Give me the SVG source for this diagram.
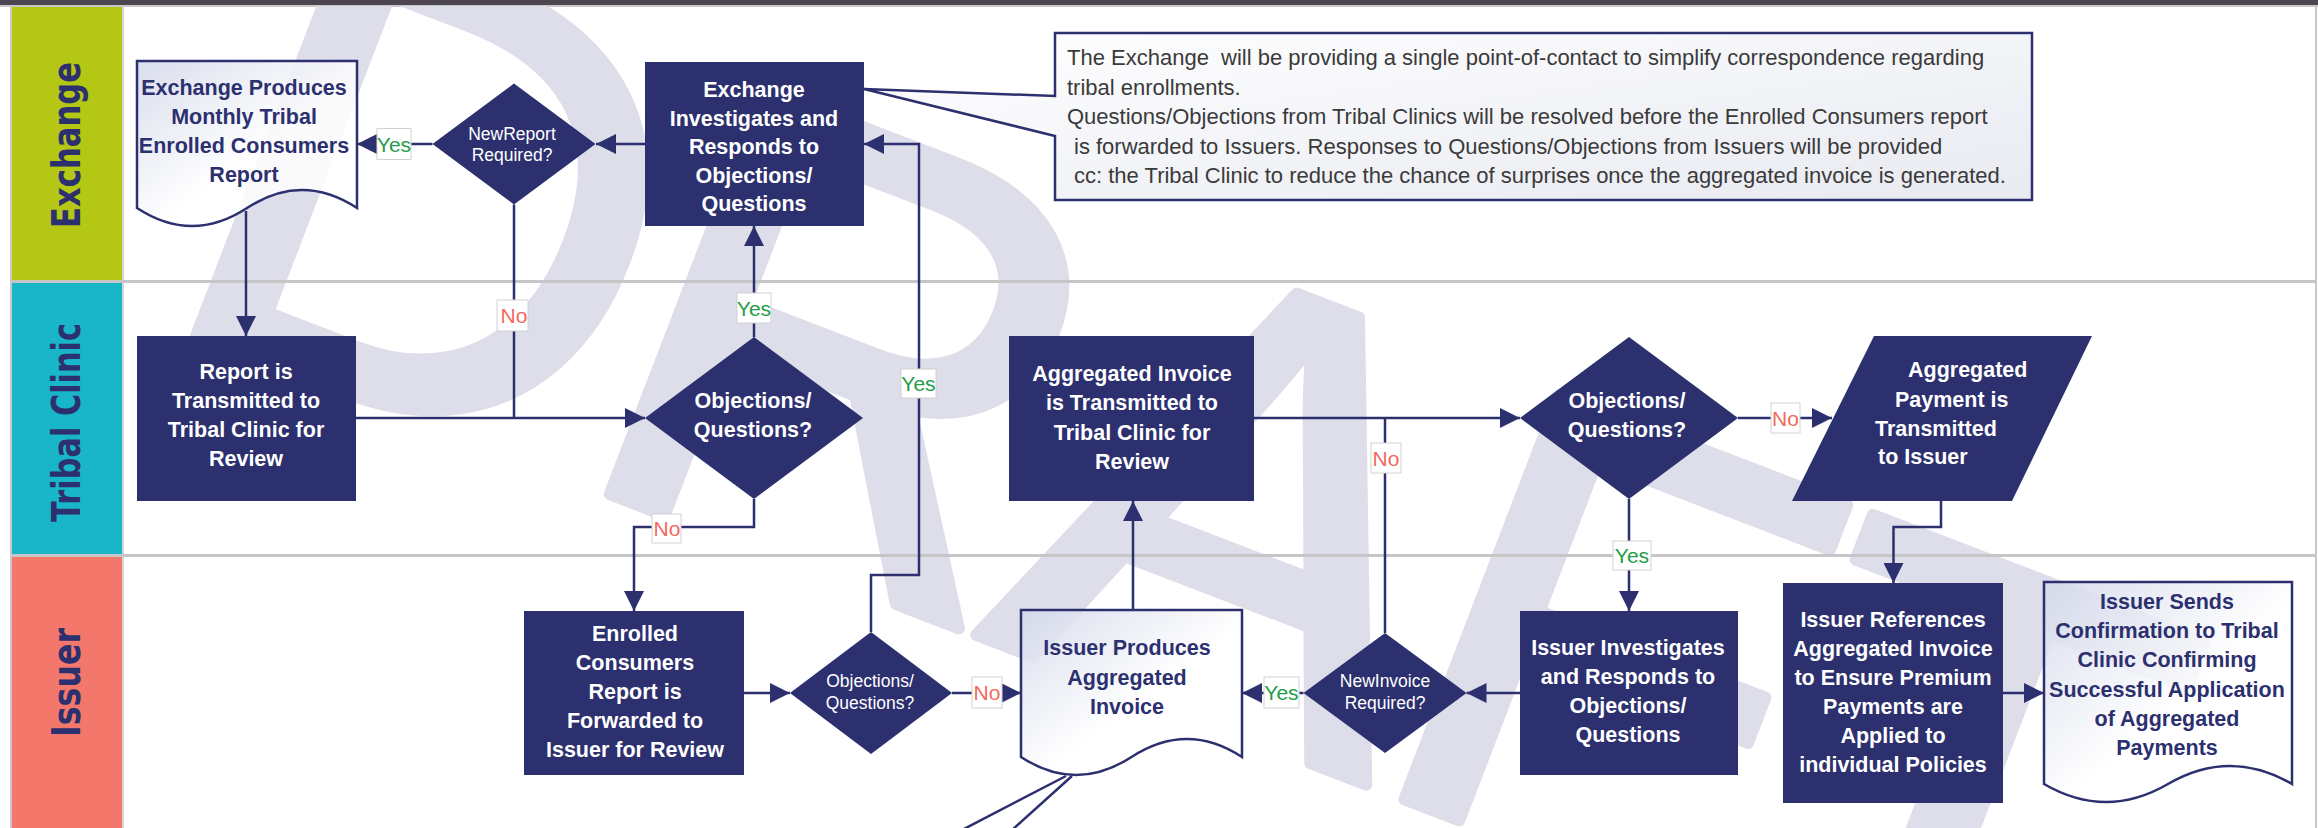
<svg xmlns="http://www.w3.org/2000/svg" width="2318" height="828" viewBox="0 0 2318 828">
<defs>
<style>
.node{fill:#2c306f}
.nt{font-family:"Liberation Sans",Arial,sans-serif;font-weight:bold;font-size:21.5px;fill:#ffffff;text-anchor:middle}
.dt{font-family:"Liberation Sans",Arial,sans-serif;font-weight:bold;font-size:21.5px;fill:#2c306f;text-anchor:middle}
.st{font-family:"Liberation Sans",Arial,sans-serif;font-size:17.5px;fill:#ffffff;text-anchor:middle}
.doc{fill:url(#docg);fill-opacity:0.85;stroke:#2c306f;stroke-width:2.5}
.conn{fill:none;stroke:#2c306f;stroke-width:2.5}
.arr{marker-end:url(#ah)}
.lb{fill:#ffffff;stroke:#d2d2d2;stroke-width:1}
.lt{font-family:"Liberation Sans",Arial,sans-serif;font-size:21px;text-anchor:middle}
.yes{fill:#1f9d48}
.no{fill:#f26a5d}
.lane{font-family:"DejaVu Sans",sans-serif;font-weight:bold;font-size:39px;fill:#2c306f;text-anchor:middle}
.ct{font-family:"Liberation Sans",Arial,sans-serif;font-size:22px;fill:#3a3a3a}
.sep{stroke:#c6c6c6;stroke-width:3}
</style>
<linearGradient id="docg" x1="0" y1="0" x2="1" y2="1"><stop offset="0" stop-color="#d3d8ea"/><stop offset="0.55" stop-color="#ffffff"/></linearGradient>
<linearGradient id="calg" x1="0" y1="0" x2="1" y2="1"><stop offset="0" stop-color="#ffffff"/><stop offset="1" stop-color="#e8eaf1"/></linearGradient>
<clipPath id="wmclip"><rect x="124" y="6" width="2192" height="822"/></clipPath>
<marker id="ah" markerUnits="userSpaceOnUse" markerWidth="20" markerHeight="20" refX="20" refY="10" orient="auto" viewBox="0 0 20 20"><path d="M0,0 L20,10 L0,20 z" fill="#2c306f"/></marker>
</defs>

<g id="background">
<rect x="0" y="0" width="2318" height="828" fill="#ffffff"/>
<rect x="0" y="0" width="2318" height="5" fill="#4b4650"/>
<rect x="0" y="5" width="2318" height="2" fill="#c8c8c8"/>
<rect x="12" y="7" width="110" height="273" fill="#b4c714"/>
<rect x="12" y="283" width="110" height="271" fill="#19b6c9"/>
<rect x="12" y="557" width="110" height="271" fill="#f4776b"/>
<line x1="11" y1="6" x2="11" y2="828" stroke="#c8c8c8" stroke-width="2"/>
<line x1="2316" y1="6" x2="2316" y2="828" stroke="#c8c8c8" stroke-width="2"/>
<line x1="123" y1="6" x2="123" y2="828" stroke="#d6d6d6" stroke-width="2"/>
</g>

<g id="watermark" clip-path="url(#wmclip)">
<text transform="translate(148,317) rotate(21)" font-family="Liberation Sans, Arial, sans-serif" font-size="630" letter-spacing="-12" fill="#dddee9" stroke="#dddee9" stroke-width="12" stroke-linejoin="round">DRAFT</text>
</g>

<g id="lanes">
<line class="sep" x1="12" y1="281.5" x2="2316" y2="281.5"/>
<line class="sep" x1="12" y1="555.5" x2="2316" y2="555.5"/>
<text class="lane" transform="translate(80,145) rotate(-90)" textLength="166" lengthAdjust="spacingAndGlyphs">Exchange</text>
<text class="lane" transform="translate(80,422.5) rotate(-90)" textLength="199" lengthAdjust="spacingAndGlyphs">Tribal Clinic</text>
<text class="lane" transform="translate(80,682.5) rotate(-90)" textLength="109" lengthAdjust="spacingAndGlyphs">Issuer</text>
</g>

<g id="connectors">
<path class="conn arr" d="M432.5,144 H357"/>
<path class="conn arr" d="M645,144 H596"/>
<path class="conn arr" d="M246,211 V336"/>
<path class="conn" d="M514,204.5 V418"/>
<path class="conn arr" d="M356,418 H645"/>
<path class="conn arr" d="M754,337 V226"/>
<path class="conn arr" d="M754,499 V527 H634 V611"/>
<path class="conn arr" d="M744,693 H790"/>
<path class="conn arr" d="M871,632 V575 H919 V144 H864"/>
<path class="conn arr" d="M952,693 H1021"/>
<path class="conn arr" d="M1133,610 V501"/>
<path class="conn arr" d="M1254,418 H1520"/>
<path class="conn" d="M1385,633 V418"/>
<path class="conn arr" d="M1303.5,693 H1242"/>
<path class="conn arr" d="M1520,693 H1466.5"/>
<path class="conn arr" d="M1629,499 V611"/>
<path class="conn arr" d="M1738,418 H1832"/>
<path class="conn arr" d="M1941,501 V527 H1893.5 V583"/>
<path class="conn arr" d="M2003,693 H2044"/>
<path class="conn" d="M1066,776 L962,830 M1072,776 L1012,830"/>
</g>

<g id="callout">
<path d="M1055,33 H2032 V200 H1055 V136 L864,89 L1055,96 Z" fill="url(#calg)" stroke="#2c306f" stroke-width="2.5" stroke-linejoin="miter"/>
<text class="ct" xml:space="preserve"><tspan x="1067" y="65">The Exchange  will be providing a single point-of-contact to simplify correspondence regarding</tspan><tspan x="1067" y="94.5">tribal enrollments.</tspan><tspan x="1067" y="124">Questions/Objections from Tribal Clinics will be resolved before the Enrolled Consumers report</tspan><tspan x="1074" y="153.5">is forwarded to Issuers. Responses to Questions/Objections from Issuers will be provided</tspan><tspan x="1074" y="183">cc: the Tribal Clinic to reduce the chance of surprises once the aggregated invoice is generated.</tspan></text>
</g>

<g id="exchange-produces-report">
<path class="doc" d="M137,61 H357 V208 Q302,172 247,208 T137,208 Z"/>
<text class="dt"><tspan x="244" y="95">Exchange Produces</tspan><tspan x="244" y="124">Monthly Tribal</tspan><tspan x="244" y="153">Enrolled Consumers</tspan><tspan x="244" y="182">Report</tspan></text>
</g>

<g id="new-report-required">
<polygon class="node" points="514,83.5 595.5,144 514,204.5 432.5,144"/>
<text class="st"><tspan x="512" y="139.5">NewReport</tspan><tspan x="512" y="160.5">Required?</tspan></text>
</g>

<g id="exchange-investigates">
<rect class="node" x="645" y="62" width="219" height="164"/>
<text class="nt"><tspan x="754" y="97">Exchange</tspan><tspan x="754" y="125.5">Investigates and</tspan><tspan x="754" y="154">Responds to</tspan><tspan x="754" y="182.5">Objections/</tspan><tspan x="754" y="211">Questions</tspan></text>
</g>

<g id="report-transmitted">
<rect class="node" x="137" y="336" width="219" height="165"/>
<text class="nt"><tspan x="246" y="379">Report is</tspan><tspan x="246" y="408">Transmitted to</tspan><tspan x="246" y="437">Tribal Clinic for</tspan><tspan x="246" y="466">Review</tspan></text>
</g>

<g id="tribal-objections">
<polygon class="node" points="754,337 863,418 754,499 645,418"/>
<text class="nt"><tspan x="753" y="408">Objections/</tspan><tspan x="753" y="437">Questions?</tspan></text>
</g>

<g id="invoice-transmitted">
<rect class="node" x="1009" y="336" width="245" height="165"/>
<text class="nt"><tspan x="1132" y="381">Aggregated Invoice</tspan><tspan x="1132" y="410">is Transmitted to</tspan><tspan x="1132" y="439.5">Tribal Clinic for</tspan><tspan x="1132" y="469">Review</tspan></text>
</g>

<g id="tribal-objections-2">
<polygon class="node" points="1629,337 1738,418 1629,499 1520,418"/>
<text class="nt"><tspan x="1627" y="408">Objections/</tspan><tspan x="1627" y="437">Questions?</tspan></text>
</g>

<g id="payment-transmitted">
<polygon class="node" points="1874,336 2092,336 2012,501 1792,501"/>
<text class="nt" style="text-anchor:start"><tspan x="1908" y="377">Aggregated</tspan><tspan x="1895" y="406.5">Payment is</tspan><tspan x="1875" y="435.5">Transmitted</tspan><tspan x="1878" y="464">to Issuer</tspan></text>
</g>

<g id="enrolled-forwarded">
<rect class="node" x="524" y="611" width="220" height="164"/>
<text class="nt"><tspan x="635" y="641">Enrolled</tspan><tspan x="635" y="670">Consumers</tspan><tspan x="635" y="699">Report is</tspan><tspan x="635" y="728">Forwarded to</tspan><tspan x="635" y="757">Issuer for Review</tspan></text>
</g>

<g id="issuer-objections">
<polygon class="node" points="871,632 952,693 871,754 790,693"/>
<text class="st"><tspan x="870" y="687">Objections/</tspan><tspan x="870" y="708.5">Questions?</tspan></text>
</g>

<g id="issuer-produces-invoice">
<path class="doc" d="M1021,610 H1242 V757 Q1187,721 1131.5,757 T1021,757 Z"/>
<text class="dt"><tspan x="1127" y="655">Issuer Produces</tspan><tspan x="1127" y="685">Aggregated</tspan><tspan x="1127" y="714">Invoice</tspan></text>
</g>

<g id="new-invoice-required">
<polygon class="node" points="1385,633 1466.5,693 1385,753 1303.5,693"/>
<text class="st"><tspan x="1385" y="687">NewInvoice</tspan><tspan x="1385" y="708.5">Required?</tspan></text>
</g>

<g id="issuer-investigates">
<rect class="node" x="1520" y="611" width="218" height="164"/>
<text class="nt"><tspan x="1628" y="655">Issuer Investigates</tspan><tspan x="1628" y="684">and Responds to</tspan><tspan x="1628" y="713">Objections/</tspan><tspan x="1628" y="742">Questions</tspan></text>
</g>

<g id="issuer-references">
<rect class="node" x="1783" y="583" width="220" height="220"/>
<text class="nt"><tspan x="1893" y="627">Issuer References</tspan><tspan x="1893" y="656">Aggregated Invoice</tspan><tspan x="1893" y="685">to Ensure Premium</tspan><tspan x="1893" y="714">Payments are</tspan><tspan x="1893" y="743">Applied to</tspan><tspan x="1893" y="772">individual Policies</tspan></text>
</g>

<g id="issuer-sends-confirmation">
<path class="doc" d="M2044,582 H2292 V784 Q2230,748 2168,784 T2044,784 Z"/>
<text class="dt"><tspan x="2167" y="609">Issuer Sends</tspan><tspan x="2167" y="638">Confirmation to Tribal</tspan><tspan x="2167" y="667">Clinic Confirming</tspan><tspan x="2167" y="696.5">Successful Application</tspan><tspan x="2167" y="726">of Aggregated</tspan><tspan x="2167" y="755">Payments</tspan></text>
</g>

<g id="labels">
<rect class="lb" x="377" y="128.5" width="34" height="31"/><text class="lt yes" x="394" y="151.5">Yes</text>
<rect class="lb" x="497" y="300" width="31" height="31"/><text class="lt no" x="514" y="323">No</text>
<rect class="lb" x="737" y="293" width="34" height="30"/><text class="lt yes" x="754" y="315.5">Yes</text>
<rect class="lb" x="652" y="514" width="29" height="29"/><text class="lt no" x="667" y="536">No</text>
<rect class="lb" x="901" y="369" width="35" height="29"/><text class="lt yes" x="918.5" y="391">Yes</text>
<rect class="lb" x="972" y="677" width="30" height="31"/><text class="lt no" x="987" y="700">No</text>
<rect class="lb" x="1371" y="443" width="30" height="30"/><text class="lt no" x="1386" y="465.5">No</text>
<rect class="lb" x="1264" y="677" width="35" height="31"/><text class="lt yes" x="1281.5" y="700">Yes</text>
<rect class="lb" x="1613" y="541" width="38" height="29"/><text class="lt yes" x="1632" y="563">Yes</text>
<rect class="lb" x="1771" y="403" width="29" height="30"/><text class="lt no" x="1785.5" y="425.5">No</text>
</g>
</svg>
